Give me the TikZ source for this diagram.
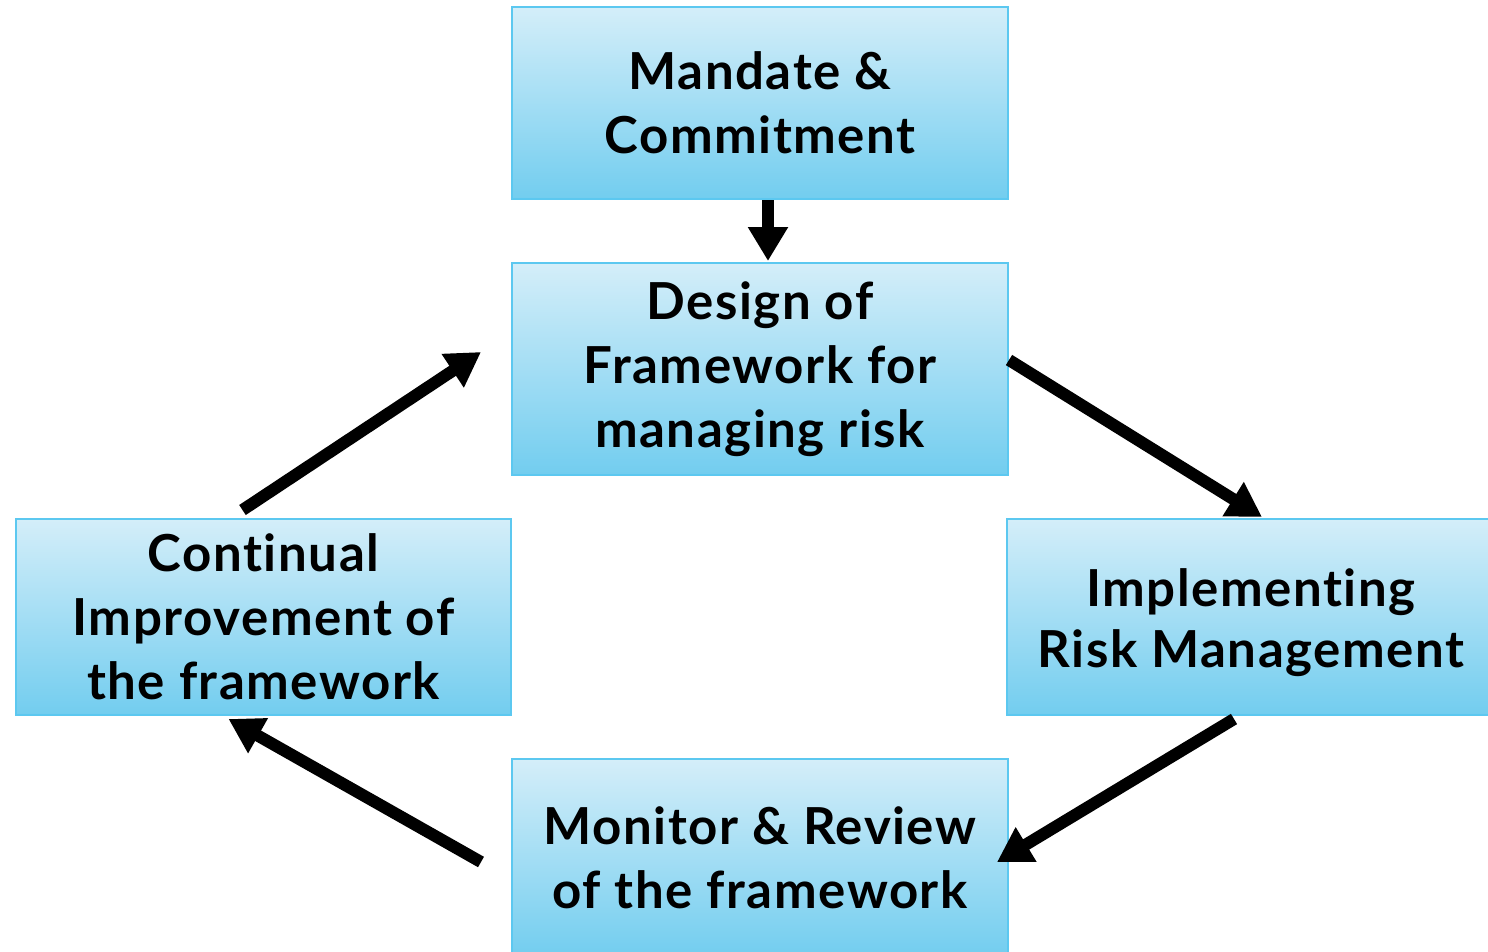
\documentclass[tikz,border=0pt]{standalone}
\usepackage{fontspec}
\setmainfont{Lato}[LetterSpace=3,Ligatures={NoCommon}]
\usetikzlibrary{arrows.meta}
\definecolor{boxtop}{HTML}{D4EEF9}
\definecolor{boxbot}{HTML}{72CDEF}
\definecolor{boxedge}{HTML}{5CC8F0}
\tikzset{
  stagebox/.style={draw=boxedge, line width=2pt, top color=boxtop, bottom color=boxbot,
    align=center, inner sep=0pt, font=\fontsize{51}{64}\selectfont\bfseries},
  flow/.style={line width=12pt, -{Triangle[length=34pt,width=38pt]}}
}
\begin{document}
\begin{tikzpicture}[x=1pt,y=1pt]
\useasboundingbox (0,0) rectangle (1488,-951);
\node[stagebox, minimum width=496pt, minimum height=192pt] (mandate) at (760,-103) {Mandate \&\\Commitment};
\node[stagebox, minimum width=496pt, minimum height=212pt] (design) at (760,-369) {Design of\\Framework for\\managing risk};
\node[stagebox, minimum width=495pt, minimum height=196pt] (continual) at (263.5,-617) {Continual\\Improvement of\\the framework};
\node[stagebox, minimum width=488pt, minimum height=196pt] (impl) at (1251,-617) {\rule{0pt}{50pt}Implementing\\[-3pt]Risk Management};
\node[stagebox, minimum width=496pt, minimum height=198pt] (monitor) at (760,-858) {Monitor \& Review\\of the framework};
\draw[flow] ([xshift=8pt]mandate.south) -- ([xshift=8pt,yshift=1pt]design.north);
\draw[flow] ([yshift=9pt]design.east) -- ([xshift=11pt,yshift=1pt]impl.north);
\draw[flow] ([xshift=-17pt,yshift=-3pt]impl.south) -- ([xshift=-12pt,yshift=-4pt]monitor.east);
\draw[flow] ([xshift=-30pt,yshift=-4pt]monitor.west) -- ([xshift=-35pt,yshift=-3pt]continual.south);
\draw[flow] ([xshift=-21pt,yshift=8pt]continual.north) -- ([xshift=-30pt,yshift=17pt]design.west);
\end{tikzpicture}
\end{document}
